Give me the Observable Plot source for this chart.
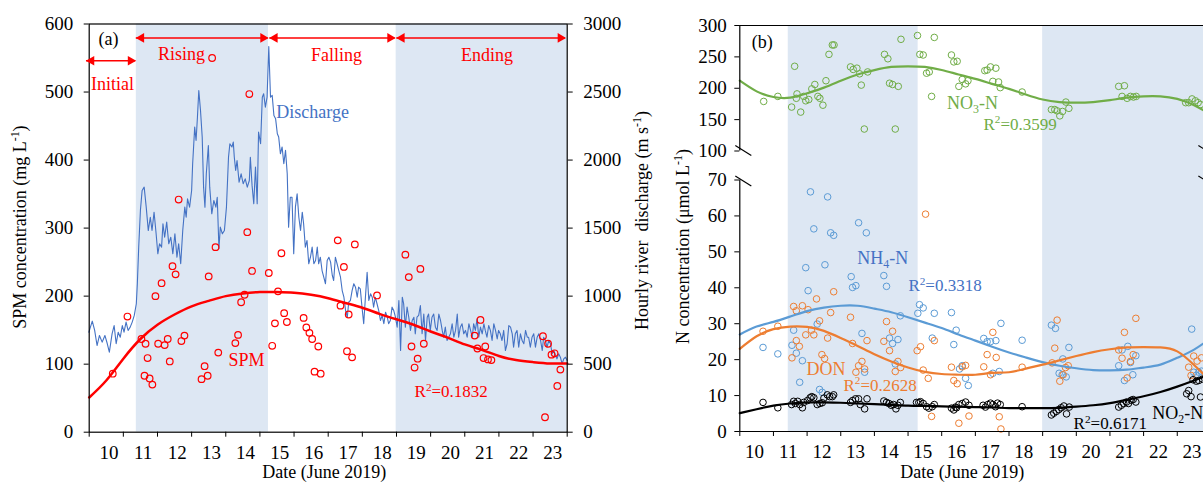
<!DOCTYPE html>
<html><head><meta charset="utf-8">
<script src="https://cdn.jsdelivr.net/npm/d3@7"></script>
<script src="https://cdn.jsdelivr.net/npm/@observablehq/plot@0.6"></script>
<style>
html,body{margin:0;padding:0;background:#fff;overflow:hidden;width:1203px;height:482px;position:relative}
#a{position:absolute;left:0;top:0;width:660px;height:482px}
#b{position:absolute;left:660px;top:0;width:560px;height:482px}
svg{max-width:none !important;display:block}
</style></head><body><div id="a"></div><div id="b"></div>
<script>
// ---------------- DATA ----------------
const dayTicks = [10,11,12,13,14,15,16,17,18,19,20,21,22,23,24];
const dayLabels = [10,11,12,13,14,15,16,17,18,19,20,21,22,23];
const spmTicks = [0,100,200,300,400,500,600];
const nTicks = [0,10,20,30,40,50,60,70,100,150,200,250,300];

// hourly river discharge (m3/s)
const dischargeDay = [9.99,10.09,10.16,10.23,10.30,10.38,10.46,10.53,10.59,10.67,10.73,10.79,10.85,10.91,10.97,11.02,11.08,11.14,11.20,11.26,11.32,11.38,11.41,11.45,11.50,11.55,11.61,11.67,11.73,11.79,11.84,11.90,11.96,12.01,12.06,12.12,12.16,12.21,12.27,12.33,12.39,12.45,12.51,12.57,12.62,12.68,12.74,12.80,12.84,12.88,12.94,13.00,13.03,13.09,13.13,13.17,13.21,13.26,13.31,13.35,13.39,13.43,13.49,13.53,13.59,13.65,13.71,13.75,13.80,13.84,13.90,13.96,14.02,14.08,14.12,14.18,14.22,14.25,14.29,14.33,14.39,14.45,14.51,14.57,14.63,14.69,14.72,14.77,14.82,14.87,14.92,14.96,15.02,15.07,15.11,15.16,15.21,15.26,15.31,15.36,15.41,15.46,15.51,15.55,15.60,15.65,15.70,15.75,15.80,15.84,15.89,15.94,15.99,16.04,16.09,16.14,16.19,16.24,16.28,16.33,16.38,16.43,16.48,16.53,16.58,16.63,16.68,16.72,16.77,16.82,16.87,16.92,16.97,17.02,17.07,17.12,17.16,17.21,17.26,17.31,17.36,17.41,17.46,17.51,17.56,17.60,17.65,17.70,17.75,17.80,17.85,17.89,17.94,17.99,18.04,18.09,18.14,18.19,18.24,18.29,18.33,18.38,18.43,18.48,18.53,18.58,18.63,18.68,18.73,18.77,18.82,18.87,18.92,18.97,19.02,19.07,19.12,19.17,19.21,19.26,19.31,19.36,19.41,19.46,19.51,19.55,19.60,19.65,19.70,19.75,19.80,19.85,19.90,19.94,19.99,20.04,20.09,20.14,20.19,20.24,20.29,20.34,20.38,20.43,20.48,20.53,20.58,20.63,20.68,20.73,20.78,20.82,20.87,20.92,20.97,21.02,21.07,21.12,21.17,21.22,21.26,21.31,21.36,21.41,21.46,21.51,21.56,21.60,21.65,21.70,21.75,21.80,21.85,21.90,21.95,21.99,22.04,22.09,22.14,22.19,22.24,22.29,22.34,22.39,22.43,22.48,22.53,22.58,22.63,22.68,22.73,22.78,22.83,22.87,22.92,22.97,23.02,23.07,23.12,23.17,23.22,23.27,23.31,23.36,23.41,23.46,23.51,23.56,23.61,23.66,23.70,23.75,23.80,23.85,23.90,23.95,24.00];
const dischargeQ = [735,816,748,637,711,662,711,650,588,723,784,650,735,698,784,735,809,748,772,809,858,944,1091,1360,1630,1776,1801,1654,1482,1580,1482,1617,1458,1311,1385,1360,1532,1433,1544,1385,1433,1311,1458,1286,1385,1238,1482,1654,1580,1715,1654,1776,1973,2242,2144,2315,2511,2364,2168,1801,1654,1899,2107,1801,1605,1703,1654,1727,1348,1507,1458,1482,1654,2021,2120,2096,2132,2021,1924,1997,1838,1899,1826,1862,1801,1850,2021,1814,1679,1948,1679,2205,2120,2462,2487,2389,2462,2835,2462,2475,2328,2303,2193,2169,2046,2096,1973,2071,1899,1507,1727,1727,1311,1654,1752,1580,1482,1617,1532,1360,1409,1238,1286,1360,1238,1262,1360,1238,1286,1188,1139,1091,1262,1286,1250,1152,1115,1286,1238,1188,1139,1041,992,894,845,956,968,1041,1091,1066,992,1066,1054,919,797,992,1176,968,1017,992,919,992,944,894,821,858,797,882,845,797,821,919,894,845,772,968,600,992,944,772,919,845,748,821,845,723,845,858,931,723,868,674,845,868,748,845,868,772,748,868,821,748,698,772,674,698,723,797,698,748,868,698,772,797,723,748,698,797,748,698,797,748,833,698,772,723,797,748,698,784,748,674,797,748,686,748,723,674,748,600,650,784,772,723,625,723,748,625,723,674,650,748,698,698,625,698,723,625,698,723,674,600,698,674,625,674,650,576,600,564,539,576,551,503,539,551,527];

// SPM concentration (mg/L)
const spmDay = [10.69,11.12,11.53,11.62,11.65,11.71,11.77,11.85,11.94,12.02,12.12,12.21,12.30,12.36,12.44,12.53,12.62,12.70,12.79,13.29,13.38,13.47,13.50,13.60,13.70,13.78,14.28,14.36,14.45,14.55,14.63,14.69,14.77,15.26,15.36,15.44,15.53,15.63,15.71,15.79,16.28,16.36,16.45,16.53,16.60,16.71,16.78,17.28,17.36,17.46,17.55,17.60,17.70,17.78,18.43,19.26,19.36,19.44,19.53,19.62,19.70,19.80,21.29,21.37,21.46,21.55,21.60,21.68,21.78,23.29,23.35,23.44,23.54,23.63,23.71,23.80];
const spmValue = [86,170,137,83,130,109,79,70,200,130,219,128,137,104,244,232,342,134,142,78,97,83,229,550,272,117,131,143,191,202,294,497,237,234,127,160,207,263,175,162,168,154,146,137,89,126,86,282,186,243,119,173,110,276,201,261,228,126,95,108,240,130,142,123,165,109,126,107,106,141,22,130,114,116,68,92];
const fitDay = [10,10.5,11,11.5,12,12.5,13,13.5,14,14.5,15,15.5,16,16.5,17,17.5,18,18.5,19,19.5,20,20.5,21,21.5,22,22.5,23,23.5,24];
const spmFit = [51,76,108,137,158,173,185,193,200,204,206,206,205,202,197,190,183,174,166,158,148,139,129,121,112,106,103,101,101];

// Nitrogen species (umol/L)
const no3Day = [10.71,11.13,11.54,11.63,11.68,11.70,11.81,11.90,11.96,12.05,12.14,12.23,12.32,12.38,12.47,12.56,12.65,12.75,12.80,13.29,13.37,13.48,13.56,13.61,13.70,13.80,14.30,14.40,14.45,14.54,14.62,14.71,14.79,15.28,15.35,15.45,15.55,15.63,15.70,15.78,16.29,16.36,16.46,16.51,16.61,16.71,16.78,17.28,17.35,17.45,17.52,17.61,17.69,17.74,18.39,19.26,19.36,19.43,19.51,19.59,19.69,19.78,21.26,21.36,21.43,21.51,21.61,21.70,21.78,23.25,23.34,23.44,23.54,23.62,23.69];
const no3Value = [179,187,170,235,184,191,162,187,180,182,199,206,187,184,173,212,254,269,269,234,230,232,223,205,135,226,254,247,208,206,135,203,278,284,254,253,224,226,187,281,253,242,243,203,214,207,212,228,229,234,211,232,210,201,194,166,166,164,156,163,178,168,203,187,204,184,187,186,187,177,177,183,180,177,174];
const no3Fit = [212,195,186,185,192,201,212,222,229,234,235,234,229,222,215,207,199,190,182,178,177,178,181,185,187,187,183,173,158];

const nh4Day = [10.69,11.13,11.55,11.60,11.68,11.78,11.86,11.96,12.03,12.10,12.20,12.30,12.37,12.45,12.53,12.61,12.70,12.79,13.31,13.35,13.45,13.53,13.63,13.71,13.76,14.28,14.36,14.45,14.54,14.62,14.70,14.77,15.29,15.34,15.45,15.72,15.78,16.29,16.36,16.43,16.53,16.61,16.71,16.79,17.25,17.35,17.45,17.52,17.61,17.71,17.76,18.39,19.26,19.38,19.49,19.58,19.60,19.70,19.78,21.26,21.36,21.43,21.53,21.61,21.68,21.77,23.43,23.49,23.56,23.64,23.72];
const nh4Value = [23.4,21.6,24.0,28.2,21.8,13.7,19.7,45.6,39.2,66.7,56.4,29.9,11.7,10.9,46.4,65.3,55.3,54.6,43.1,40.1,40.6,58.1,27.3,16.5,55.3,43.4,40.4,26.0,24.5,18.8,25.6,32.2,32.9,35.3,34.4,26.0,32.9,33.1,24.2,28.2,17.4,18.3,14.8,12.8,25.9,25.0,25.0,16.2,25.3,16.7,30.1,25.4,29.6,28.7,16.2,15.8,20.2,15.2,23.4,18.3,22.7,14.2,23.7,19.2,15.8,21.1,28.5,16.5,15.6,16.5,16.8];
const nh4Fit = [27,29.2,30.5,32,33.5,34.5,35,35,34.2,33.2,31.8,30.3,28.8,27,25.3,23.6,22,20.6,19.3,18.3,17.6,17.1,17,17.2,17.8,18.6,20.5,22.8,26];

const donDay = [10.69,11.13,11.55,11.60,11.68,11.68,11.77,11.86,11.96,12.03,12.13,12.20,12.28,12.37,12.44,12.52,12.61,12.70,12.79,13.29,13.35,13.45,13.53,13.63,13.71,13.78,14.28,14.36,14.45,14.54,14.62,14.70,14.78,15.27,15.37,15.45,15.52,15.60,15.70,15.78,16.29,16.36,16.46,16.51,16.61,16.71,16.81,17.25,17.35,17.45,17.52,17.62,17.71,17.76,18.39,19.28,19.36,19.43,19.51,19.61,19.68,19.76,21.26,21.36,21.43,21.51,21.61,21.69,21.77,23.34,23.41,23.49,23.59,23.72];
const donValue = [27.9,29.3,20.5,34.8,33.6,25.3,23.7,35.0,26.9,33.9,28.2,26.9,36.9,30.8,21.4,20.3,26.0,33.1,38.9,31.8,24.5,16.5,18.3,19.5,17.4,25.3,25.1,30.6,22.5,27.9,16.7,19.5,17.8,22.5,23.6,17.1,60.5,14.8,4.2,25.3,17.9,14.2,13.3,2.3,18.0,18.4,4.3,18.0,21.4,15.8,27.6,20.6,4.1,0.7,17.9,19.1,23.2,31.0,14.0,15.8,17.8,18.3,22.7,20.4,27.6,14.9,19.5,21.4,31.5,17.9,15.6,21.0,19.6,20.5];
const donFit = [23,26.5,28.5,29.2,29.1,28,26,23.8,21.5,19.5,17.8,16.6,16,15.8,15.8,16.3,16.5,17.5,18.6,19.8,21,22.1,22.9,23.4,23.5,23.4,22.3,18.5,14];

const no2Day = [10.69,11.13,11.54,11.60,11.65,11.72,11.78,11.86,11.90,12.01,12.09,12.14,12.20,12.30,12.38,12.45,12.50,12.60,12.67,12.75,12.79,13.29,13.35,13.44,13.53,13.58,13.71,13.78,14.28,14.36,14.43,14.50,14.57,14.64,14.70,14.77,15.25,15.32,15.37,15.45,15.55,15.62,15.72,15.78,16.29,16.36,16.41,16.44,16.51,16.61,16.71,16.81,17.23,17.30,17.37,17.45,17.52,17.60,17.66,17.74,18.39,19.26,19.33,19.41,19.48,19.55,19.63,19.71,19.79,21.26,21.34,21.41,21.49,21.55,21.63,21.69,21.77,23.28,23.34,23.41,23.47,23.57,23.64,23.69,23.75];
const no2Value = [8.1,6.6,7.5,8.4,7.8,8.4,7.5,6.6,8.1,8.6,9.4,9.7,9.4,7.5,7.8,8.0,9.3,10.2,9.7,9.7,10.2,8.1,8.6,9.1,9.1,7.5,6.3,9.1,8.5,8.1,7.8,7.3,7.5,6.3,7.3,8.1,8.1,8.1,8.3,7.8,6.9,6.5,6.9,7.5,6.5,6.0,6.8,6.6,7.5,7.8,8.2,7.3,7.3,6.8,7.5,7.9,7.5,6.9,7.9,7.5,6.9,4.6,5.1,5.6,6.1,6.6,7.1,4.9,6.8,6.8,7.3,7.8,8.2,7.8,8.7,8.9,8.2,10.5,11.4,9.7,14.4,14.0,14.2,9.6,14.6];
const no2Fit = [5.1,6.2,7.2,7.8,8.1,8.1,8,7.8,7.6,7.4,7.2,7.1,7,6.9,6.8,6.7,6.5,6.5,6.5,6.6,6.9,7.3,7.9,8.8,9.8,11,12.5,14.2,16];

// hydrological phases
const phaseNames = ["Initial","Rising","Falling","Ending"];
const phaseStart = [9.92,11.38,15.29,19.01];
const phaseEnd = [11.36,15.24,18.96,23.95];

// ---------------- HELPERS ----------------
const FONT = "'Liberation Serif','Times New Roman',serif";
const RED = "#ff0000", SHADE = "#dde7f3";
const zipXY = (xs, ys) => xs.map((x, i) => ({x, y: ys[i]}));

function richText(svg) {
  d3.select(svg).selectAll("text").each(function() {
    const t = this.textContent;
    if (!/[\^_]\{/.test(t)) return;
    const el = d3.select(this);
    const fs = parseFloat(getComputedStyle(this).fontSize) || 18;
    el.text(null);
    let shift = 0;
    for (const p of t.split(/([\^_]\{[^}]*\})/)) {
      if (!p) continue;
      const m = p.match(/^([\^_])\{([^}]*)\}$/);
      if (m) {
        const dy = m[1] === "^" ? -0.38 * fs : 0.22 * fs;
        el.append("tspan").attr("dy", dy - shift).attr("font-size", 0.66 * fs).text(m[2]);
        shift = dy;
      } else {
        el.append("tspan").attr("dy", -shift).text(p);
        shift = 0;
      }
    }
  });
}

function phaseMarks() {
  const ph = phaseNames.map((n, i) => ({n, s: phaseStart[i], e: phaseEnd[i], lv: i === 0 ? 546 : 579.5}));
  return [
    Plot.ruleY(ph, {y: "lv", x1: "s", x2: "e", stroke: RED, strokeWidth: 1.4}),
    Plot.dot(ph, {x: "e", y: "lv", symbol: "triangle", r: 3.6, fill: RED, rotate: 90, dx: -5}),
    Plot.dot(ph, {x: "s", y: "lv", symbol: "triangle", r: 3.6, fill: RED, rotate: -90, dx: 5})
  ];
}

// ---------------- PANEL A ----------------
const plotA = Plot.plot({
  width: 660, height: 482,
  marginLeft: 88.7, marginRight: 93.3, marginTop: 23.5, marginBottom: 50.3,
  style: {fontFamily: FONT, fontSize: "19px", background: "transparent", overflow: "visible", color: "black"},
  x: {domain: [10, 24]},
  y: {domain: [0, 600]},
  marks: [
    Plot.rect([[phaseStart[1], phaseEnd[1] + 0.01], [phaseStart[3] - 0.02, 24]], {x1: d => d[0], x2: d => d[1], fill: SHADE}),
    Plot.line(dischargeQ, {x: (d, i) => dischargeDay[i], y: d => d / 5, stroke: "#4472C4", strokeWidth: 1.1}),
    Plot.dot(zipXY(spmDay, spmValue), {x: "x", y: "y", r: 3.3, stroke: RED, strokeWidth: 1.2, fill: "none"}),
    Plot.line(zipXY(fitDay, spmFit), {x: "x", y: "y", stroke: RED, strokeWidth: 2.5, curve: "natural"}),
    Plot.frame({stroke: "black", strokeWidth: 1.2}),
    Plot.axisY({ticks: spmTicks, tickSize: 5, tickPadding: 11, label: null, anchor: "left"}),
    Plot.axisY({ticks: spmTicks, tickFormat: d => String(d * 5), tickSize: 5, tickPadding: 11, label: null, anchor: "right"}),
    Plot.axisX({ticks: dayTicks, tickFormat: () => "", tickSize: 5, label: null}),
    Plot.axisX({ticks: dayLabels.map(d => d + 0.58), tickFormat: d => String(Math.floor(d)), tickSize: 0, tickPadding: 13, label: null}),
    ...phaseMarks(),
    Plot.text(phaseNames, {x: [10.68, 12.70, 17.24, 21.65], y: [511, 555, 553.7, 553.7], text: d => d, fill: RED, fontSize: 18}),
    Plot.text(["(a)"], {x: 10.565, y: 577, fill: "black", fontSize: 18}),
    Plot.text(["Discharge"], {x: 15.48, y: 470, textAnchor: "start", fill: "#4472C4", fontSize: 18}),
    Plot.text(["SPM"], {x: 14.08, y: 105.4, textAnchor: "start", fill: RED, fontSize: 18}),
    Plot.text(["R^{2}=0.1832"], {x: 19.53, y: 59.8, textAnchor: "start", fill: RED, fontSize: 17}),
    Plot.text(["SPM concentration (mg L^{-1})"], {frameAnchor: "left", textAnchor: "middle", lineAnchor: "middle", dx: -68.7, dy: -1, rotate: -90, fontSize: 18, fill: "black"}),
    Plot.text(["Hourly river  discharge (m s^{-1})"], {frameAnchor: "right", textAnchor: "middle", lineAnchor: "middle", dx: 75, dy: -7.6, rotate: -90, fontSize: 18, fill: "black"}),
    Plot.text(["Date (June 2019)"], {frameAnchor: "bottom", lineAnchor: "middle", dx: -4, dy: 40.5, fontSize: 18, fill: "black"})
  ]
});
document.getElementById("a").append(plotA);
richText(plotA);

// ---------------- PANEL B ----------------
const plotB = Plot.plot({
  width: 560, height: 482,
  marginLeft: 79.3, marginRight: 9.6, marginTop: 25, marginBottom: 51,
  style: {fontFamily: FONT, fontSize: "19px", background: "transparent", overflow: "visible", color: "black"},
  x: {domain: [10, 24]},
  y: {type: "linear", domain: [0, 70, 100, 300], range: [431, 179.5, 150.5, 25]},
  marks: [
    Plot.rect([[11.44, 15.30], [19.0, 24]], {x1: d => d[0], x2: d => d[1], fill: SHADE}),
    Plot.dot(zipXY(no3Day, no3Value), {x: "x", y: "y", r: 3.3, stroke: "#70AD47", strokeWidth: 1, fill: "none"}),
    Plot.line(zipXY(fitDay, no3Fit), {x: "x", y: "y", stroke: "#70AD47", strokeWidth: 2.2, curve: "natural"}),
    Plot.dot(zipXY(nh4Day, nh4Value), {x: "x", y: "y", r: 3.3, stroke: "#5B9BD5", strokeWidth: 1, fill: "none"}),
    Plot.dot(zipXY(donDay, donValue), {x: "x", y: "y", r: 3.3, stroke: "#ED7D31", strokeWidth: 1, fill: "none"}),
    Plot.dot(zipXY(no2Day, no2Value), {x: "x", y: "y", r: 3.3, stroke: "black", strokeWidth: 1, fill: "none"}),
    Plot.line(zipXY(fitDay, nh4Fit), {x: "x", y: "y", stroke: "#5B9BD5", strokeWidth: 2.2, curve: "natural"}),
    Plot.line(zipXY(fitDay, donFit), {x: "x", y: "y", stroke: "#ED7D31", strokeWidth: 2.2, curve: "natural"}),
    Plot.line(zipXY(fitDay, no2Fit), {x: "x", y: "y", stroke: "black", strokeWidth: 2.2, curve: "natural"}),
    Plot.ruleY([0, 300], {stroke: "black", strokeWidth: 1.2}),
    Plot.ruleX([10, 24], {y1: 100, y2: 300, stroke: "black", strokeWidth: 1.2}),
    Plot.ruleX([10, 24], {y1: 0, y2: 70, stroke: "black", strokeWidth: 1.2}),
    Plot.axisY({ticks: nTicks, tickSize: 5, tickPadding: 8, label: null, anchor: "left"}),
    Plot.axisX({ticks: dayTicks, tickFormat: () => "", tickSize: 5, label: null}),
    Plot.axisX({ticks: dayLabels.map(d => d + 0.44), tickFormat: d => String(Math.floor(d)), tickSize: 0, tickPadding: 13, label: null}),
    Plot.text(["(b)"], {x: 10.67, y: 273, fill: "black", fontSize: 18}),
    Plot.text(["NO_{3}-N"], {x: 16.16, y: 175.8, textAnchor: "start", fill: "#70AD47", fontSize: 18}),
    Plot.text(["R^{2}=0.3599"], {x: 17.24, y: 142.3, textAnchor: "start", fill: "#70AD47", fontSize: 17}),
    Plot.text(["NH_{4}-N"], {x: 13.49, y: 48.1, textAnchor: "start", fill: "#4472C4", fontSize: 18}),
    Plot.text(["R^{2}=0.3318"], {x: 15.01, y: 40.6, textAnchor: "start", fill: "#4472C4", fontSize: 17}),
    Plot.text(["DON"], {x: 11.98, y: 17.2, textAnchor: "start", fill: "#ED7D31", fontSize: 18}),
    Plot.text(["R^{2}=0.2628"], {x: 13.08, y: 12.8, textAnchor: "start", fill: "#ED7D31", fontSize: 17}),
    Plot.text(["R^{2}=0.6171"], {x: 19.92, y: 2.2, textAnchor: "start", fill: "black", fontSize: 17}),
    Plot.text(["NO_{2}-N"], {x: 22.26, y: 5.0, textAnchor: "start", fill: "black", fontSize: 18}),
    Plot.text(["N concentration (\u03bcmol L^{-1})"], {frameAnchor: "left", textAnchor: "middle", lineAnchor: "middle", dx: -56.3, dy: 18, rotate: -90, fontSize: 18, fill: "black"}),
    Plot.text(["Date (June 2019)"], {frameAnchor: "bottom", lineAnchor: "middle", dx: -13, dy: 41, fontSize: 18, fill: "black"})
  ]
});
document.getElementById("b").append(plotB);
richText(plotB);

// axis-break marks drawn with the plot's own scales
(function() {
  const xs = plotB.scale("x"), ys = plotB.scale("y");
  const g = d3.select(plotB).append("g").attr("stroke", "black").attr("stroke-width", 1.2);
  const xl = xs.apply(10), xr = xs.apply(24);
  for (const [v, off] of [[100, 0], [70, 1.5]]) {
    const y = ys.apply(v) + off;
    g.append("line").attr("x1", xl - 4).attr("y1", y - 5).attr("x2", xl + 12).attr("y2", y + 5);
    g.append("line").attr("x1", xr - 12).attr("y1", y - 5).attr("x2", xr + 4).attr("y2", y + 5);
  }
})();
</script></body></html>
